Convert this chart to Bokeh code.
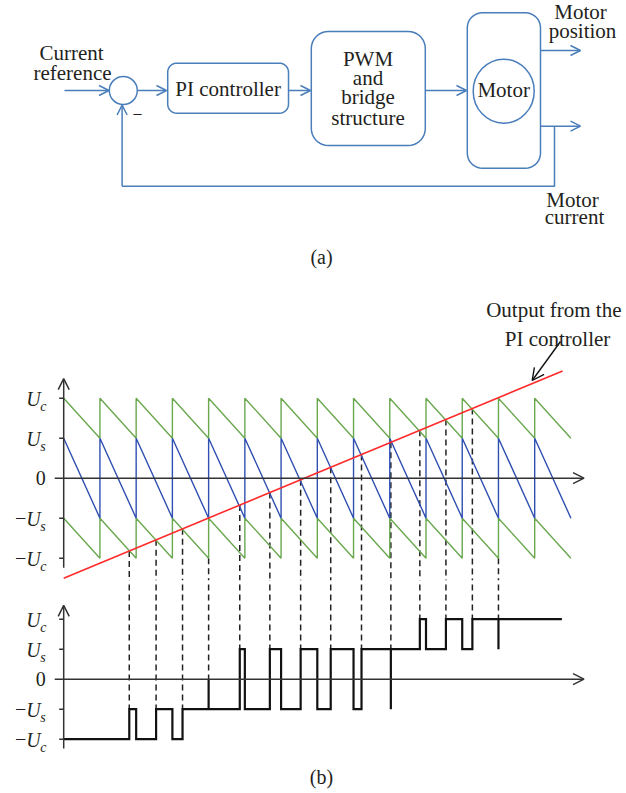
import numpy as np
from bokeh.plotting import figure
from bokeh.layouts import column
from bokeh.models import Range1d, Arrow, OpenHead
from bokeh.core.properties import value
from bokeh.embed import file_html
from bokeh.resources import INLINE

# ---------------- data ----------------
level_values = [2, 1, -1, -2]
level_signs = ["", "", "\u2212", "\u2212"]
level_subs = ["c", "s", "s", "c"]

carrier_periods = 14
upper_carrier = [2, 1]      # Uc -> Us
middle_carrier = [1, -1]    # Us -> -Us
lower_carrier = [-1, -2]    # -Us -> -Uc

pi_output_t = [0.0, 13.77]
pi_output_v = [-2.5, 2.68]

switch_t = [1.81, 2.55, 3.28, 4.0, 4.86, 5.69, 6.54, 7.37, 8.22, 9.03,
            9.83, 10.55, 11.28, 12.0]

pwm_t = [0, 1.81, 2.0, 2.55, 3.0, 3.28, 4.0, 4.0, 4.86, 5.0, 5.69, 6.0, 6.54,
         7.0, 7.37, 8.0, 8.22, 9.03, 9.03, 9.83, 10.0, 10.55, 11.0, 11.28,
         12.0, 12.0, 13.75]
pwm_v = [-2, -1, -2, -1, -2, -1, 0, -1, 1, -1, 1, -1, 1, -1, 1, -1, 1, -1, 1,
         2, 1, 2, 1, 2, 1, 2, 2]

# ---------------- style ----------------
SERIF = value("Liberation Serif")
TXT = "#231f20"
BLK = "#4a7ebb"
GREEN = "#6aa84f"
BLUE = "#2f50b0"
RED = "#ff2a2a"
AX = "#333333"

W = 626
H_A, H_TOP, H_BOT = 270, 310, 213
PX_T = 36.23      # pixels per carrier period
AXIS_X = 63.2     # pixel x of the vertical axes
TOP_ZERO, TOP_PX = 207.7, 40.0
BOT_ZERO, BOT_PX = 98.7, 30.0


def make_fig(h, xr, yr):
    p = figure(width=W, height=h, x_range=xr, y_range=yr,
               output_backend="svg", toolbar_location=None,
               x_axis_location=None, y_axis_location=None,
               min_border=0, min_border_left=0, min_border_right=0,
               min_border_top=0, min_border_bottom=0)
    p.grid.visible = False
    p.outline_line_color = None
    p.background_fill_color = "white"
    p.border_fill_color = "white"
    return p


def rounded_rect(x0, y0, x1, y1, r, n=10):
    xs, ys = [], []
    corners = [(x1 - r, y0 + r, -90, 0), (x1 - r, y1 - r, 0, 90),
               (x0 + r, y1 - r, 90, 180), (x0 + r, y0 + r, 180, 270)]
    for cx, cy, a0, a1 in corners:
        for a in np.linspace(np.radians(a0), np.radians(a1), n):
            xs.append(cx + r * np.cos(a))
            ys.append(cy + r * np.sin(a))
    xs.append(xs[0])
    ys.append(ys[0])
    return xs, ys


def arrow(p, x0, y0, x1, y1, color, size=10, lw=1.5):
    p.add_layout(Arrow(end=OpenHead(size=size, line_color=color, line_width=lw),
                       x_start=x0, y_start=y0, x_end=x1, y_end=y1,
                       line_color=color, line_width=lw))


def label(p, x, y, txt, size="21px", align="center", baseline="middle", style="normal"):
    p.text(x=[x], y=[y], text=[txt], text_font=SERIF, text_font_size=size,
           text_align=align, text_baseline=baseline, text_color=TXT,
           text_font_style=style)


# ---------------- (a) block diagram ----------------
pa = make_fig(H_A, Range1d(0, W), Range1d(H_A, 0))

label(pa, 71, 52.7, "Current")
label(pa, 72, 72.3, "reference")
arrow(pa, 64, 90, 108.5, 90, BLK)
pa.circle(x=[122.8], y=[90], radius=14, fill_color=None, line_color=BLK, line_width=1.5)
arrow(pa, 137, 90, 166, 90, BLK)

xs, ys = rounded_rect(167.2, 62.7, 288, 112.7, 9)
pa.line(xs, ys, line_color=BLK, line_width=1.5)
label(pa, 227.6, 88.5, "PI controller")
arrow(pa, 288, 90, 310, 90, BLK)

xs, ys = rounded_rect(310.8, 31, 424.8, 145, 17)
pa.line(xs, ys, line_color=BLK, line_width=1.5)
for yy, t in zip([58.3, 77.3, 96.7, 117.3], ["PWM", "and", "bridge", "structure"]):
    label(pa, 367.5, yy, t)
arrow(pa, 424.8, 90, 466, 90, BLK)

xs, ys = rounded_rect(466.8, 12.3, 540, 167.7, 15)
pa.line(xs, ys, line_color=BLK, line_width=1.5)
pa.ellipse(x=[503.2], y=[90.7], width=61, height=64, fill_color=None,
           line_color=BLK, line_width=1.5)
label(pa, 503.2, 89.5, "Motor")

arrow(pa, 540, 50, 580, 50, BLK)
arrow(pa, 540, 125.7, 580, 125.7, BLK)
label(pa, 580, 11, "Motor")
label(pa, 582, 30.7, "position")

pa.line([554, 554, 121.6], [125.7, 185.7, 185.7], line_color=BLK, line_width=1.5)
arrow(pa, 121.6, 185.7, 121.6, 104.5, BLK)
label(pa, 137, 112, "\u2013", size="16px")
label(pa, 572, 199.3, "Motor")
label(pa, 574, 216, "current")
label(pa, 321, 256, "(a)", size="20px")

# ---------------- (b) upper: carriers and PI output ----------------
xr = (-AXIS_X / PX_T, (W - AXIS_X) / PX_T)
pt = make_fig(H_TOP, Range1d(*xr),
              Range1d(-(H_TOP - TOP_ZERO) / TOP_PX, TOP_ZERO / TOP_PX))
pb = make_fig(H_BOT, Range1d(*xr),
              Range1d(-(H_BOT - BOT_ZERO) / BOT_PX, BOT_ZERO / BOT_PX))

# dashed switching lines: from the crossing down to the PWM output
red_at_switch = np.interp(switch_t, pi_output_t, pi_output_v)
dash_top = [lower_carrier[1] if abs(s - round(s)) < 1e-9 else r
            for s, r in zip(switch_t, red_at_switch)]
top_floor = pt.y_range.start - 0.2
pt.segment(x0=switch_t, y0=dash_top, x1=switch_t,
           y1=[top_floor] * len(switch_t), line_color="#222222",
           line_width=1.5, line_dash="6 4")


def dash_end(s):
    before = [v for t, v in zip(pwm_t, pwm_v) if t < s - 1e-9][-1]
    at = [v for t, v in zip(pwm_t, pwm_v) if abs(t - s) < 1e-9]
    return max(at + [before])


bot_ceiling = pb.y_range.end + 0.2
pb.segment(x0=switch_t, y0=[bot_ceiling] * len(switch_t), x1=switch_t,
           y1=[dash_end(s) for s in switch_t], line_color="#222222",
           line_width=1.5, line_dash="6 4")


def sawtooth(levels):
    xs, ys = [], []
    for k in range(carrier_periods):
        xs += [k, k + 1]
        ys += list(levels)
    return xs, ys


for lev, col in [(upper_carrier, GREEN), (lower_carrier, GREEN), (middle_carrier, BLUE)]:
    sx, sy = sawtooth(lev)
    pt.line(sx, sy, line_color=col, line_width=1.4)

pt.line(pi_output_t, pi_output_v, line_color=RED, line_width=1.6)


def draw_axes(p, v_lo, v_hi):
    tick = 4.5 / PX_T
    arrow(p, 0, v_lo, 0, v_hi, AX, size=11, lw=1.5)
    arrow(p, -9 / PX_T, 0, (583.5 - AXIS_X) / PX_T, 0, AX, size=11, lw=1.5)
    p.segment(x0=[-tick] * len(level_values), y0=level_values,
              x1=[0] * len(level_values), y1=level_values,
              line_color=AX, line_width=1.5)
    p.text(x=[0] * len(level_values), y=level_values, text=["U"] * len(level_values),
           text_font=SERIF, text_font_size="20px", text_font_style="italic",
           text_align="right", text_baseline="middle", text_color=TXT,
           x_offset=-23, y_offset=1)
    p.text(x=[0] * len(level_values), y=level_values, text=level_subs,
           text_font=SERIF, text_font_size="14px", text_font_style="italic",
           text_align="left", text_baseline="middle", text_color=TXT,
           x_offset=-23.5, y_offset=8)
    p.text(x=[0] * len(level_values), y=level_values, text=level_signs,
           text_font=SERIF, text_font_size="20px",
           text_align="right", text_baseline="middle", text_color=TXT,
           x_offset=-37.5, y_offset=0)
    p.text(x=[0], y=[0], text=["0"], text_font=SERIF, text_font_size="20px",
           text_align="right", text_baseline="middle", text_color=TXT,
           x_offset=-18, y_offset=0)


draw_axes(pt, -2.24, 2.49)

pt.text(x=[(553.3 - AXIS_X) / PX_T], y=[(TOP_ZERO - 39.0) / TOP_PX],
        text=["Output from the"], text_font=SERIF, text_font_size="21px",
        text_align="center", text_baseline="alphabetic", text_color=TXT)
pt.text(x=[(557 - AXIS_X) / PX_T], y=[(TOP_ZERO - 68.3) / TOP_PX],
        text=["PI controller"], text_font=SERIF, text_font_size="21px",
        text_align="center", text_baseline="alphabetic", text_color=TXT)
arrow(pt, (560 - AXIS_X) / PX_T, (TOP_ZERO - 71) / TOP_PX,
      (531.7 - AXIS_X) / PX_T, (TOP_ZERO - 110) / TOP_PX, "#111111", size=12, lw=1.4)

# ---------------- (b) lower: PWM output ----------------
pb.step(pwm_t, pwm_v, mode="after", line_color="#111111", line_width=2.2,
        line_join="miter")
draw_axes(pb, -2.31, 2.46)
pb.text(x=[(321 - AXIS_X) / PX_T], y=[(BOT_ZERO - 196.5) / BOT_PX], text=["(b)"],
        text_font=SERIF, text_font_size="20px", text_align="center",
        text_baseline="middle", text_color=TXT)

layout = column(pa, pt, pb, spacing=0)
open("out.html", "w").write(file_html(layout, INLINE))
